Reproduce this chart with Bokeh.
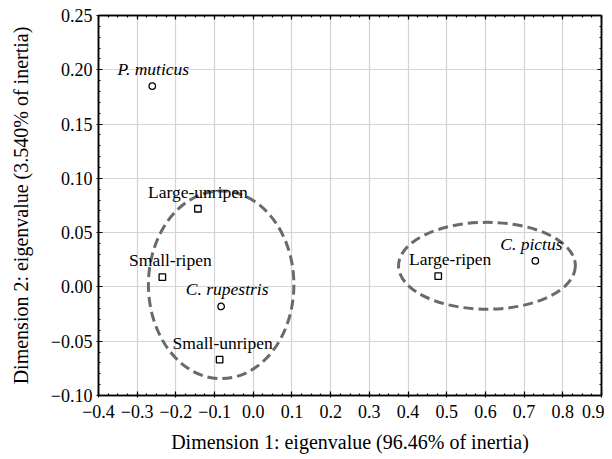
import numpy as np
from bokeh.plotting import figure
from bokeh.models import Range1d, LinearAxis, FixedTicker, ColumnDataSource, Grid
from bokeh.core.properties import value
from bokeh.embed import file_html
from bokeh.resources import INLINE

# ---- data ----
fruit_labels = ["Large-unripen", "Small-ripen", "Small-unripen", "Large-ripen"]
fruit_x = [-0.143, -0.235, -0.087, 0.478]
fruit_y = [0.072, 0.009, -0.067, 0.010]

species_labels = ["P. muticus", "C. rupestris", "C. pictus"]
species_x = [-0.261, -0.083, 0.729]
species_y = [0.185, -0.018, 0.024]

ellipse_cx = [-0.083, 0.604]
ellipse_cy = [0.002, 0.0195]
ellipse_w = [0.376, 0.457]
ellipse_h = [0.173, 0.080]

x_ticks = [-0.4, -0.3, -0.2, -0.1, 0.0, 0.1, 0.2, 0.3, 0.4, 0.5, 0.6, 0.7, 0.8, 0.9]
x_tick_labels = ["−0.4", "−0.3", "−0.2", "−0.1", "0.0", "0.1", "0.2", "0.3",
                 "0.4", "0.5", "0.6", "0.7", "0.8", "0.9"]
y_ticks = [-0.10, -0.05, 0.00, 0.05, 0.10, 0.15, 0.20, 0.25]
y_tick_labels = ["−0.10", "−0.05", "0.00", "0.05", "0.10", "0.15", "0.20", "0.25"]

# label placement (styles, screen px)
fruit_dx = [0, 8, 3, 12]
species_dx = [1, 6, -4]

FONT = "Liberation Serif"

p = figure(width=604, height=459, output_backend="svg", toolbar_location=None,
           x_range=Range1d(-0.4, 0.9), y_range=Range1d(-0.10, 0.25),
           x_axis_type=None, y_axis_type=None,
           min_border_left=98, min_border_right=3, min_border_top=15, min_border_bottom=64)
p.background_fill_color = "white"
p.border_fill_color = "white"
p.outline_line_color = "black"
p.outline_line_width = 1.5

x_minor = list(np.round(np.arange(-0.4, 0.9001, 0.025), 4))
y_minor = list(np.round(np.arange(-0.10, 0.2501, 0.01), 4))
xt = FixedTicker(ticks=x_ticks, minor_ticks=x_minor)
yt = FixedTicker(ticks=y_ticks, minor_ticks=y_minor)

common = dict(axis_line_width=1.5, axis_line_color="black",
              major_tick_in=4, major_tick_out=2, minor_tick_in=2, minor_tick_out=0,
              major_tick_line_width=1.2, minor_tick_line_width=1.2,
              major_label_text_font=FONT, major_label_text_font_size="18px",
              major_label_text_color="black",
              axis_label_text_font=FONT, axis_label_text_font_size="20px",
              axis_label_text_font_style="normal", axis_label_text_color="black")

xaxis = LinearAxis(ticker=xt, axis_label="Dimension 1: eigenvalue (96.46% of inertia)",
                   major_label_overrides=dict(zip(x_ticks, x_tick_labels)),
                   major_label_standoff=7, axis_label_standoff=10, **common)
yaxis = LinearAxis(ticker=yt, axis_label="Dimension 2: eigenvalue (3.540% of inertia)",
                   major_label_overrides=dict(zip(y_ticks, y_tick_labels)),
                   major_label_standoff=4, axis_label_standoff=16, **common)
p.add_layout(xaxis, "below")
p.add_layout(yaxis, "left")

for loc, tk in (("above", xt), ("right", yt)):
    extra = LinearAxis(ticker=tk, axis_line_width=1.5, axis_line_color="black",
                       major_tick_in=4, major_tick_out=0,
                       minor_tick_in=2, minor_tick_out=0, major_tick_line_width=1.2,
                       minor_tick_line_width=1.2, major_label_text_color=None,
                       major_label_text_font_size="1px", major_label_standoff=0)
    p.add_layout(extra, loc)

p.add_layout(Grid(dimension=0, ticker=xt, grid_line_color="#d4d4d4", grid_line_width=1.2))
p.add_layout(Grid(dimension=1, ticker=yt, grid_line_color="#d4d4d4", grid_line_width=1.2))

# ellipses
esrc = ColumnDataSource(dict(x=ellipse_cx, y=ellipse_cy, w=ellipse_w, h=ellipse_h))
p.ellipse(x="x", y="y", width="w", height="h", source=esrc, fill_color=None,
          line_color="#6a6a6a", line_width=3, line_dash="10 5")

# markers
fsrc = ColumnDataSource(dict(x=fruit_x, y=fruit_y, t=fruit_labels, dx=fruit_dx))
ssrc = ColumnDataSource(dict(x=species_x, y=species_y, t=species_labels, dx=species_dx))
p.scatter(x="x", y="y", source=fsrc, marker="square", size=6.5,
          fill_color="white", line_color="black", line_width=1.3)
p.scatter(x="x", y="y", source=ssrc, marker="circle", size=6.5,
          fill_color="white", line_color="black", line_width=1.3)

p.text(x="x", y="y", text="t", source=fsrc, x_offset="dx", y_offset=-17,
       text_font=value(FONT), text_font_size="17.5px", text_align="center",
       text_baseline="middle", text_color="black")
p.text(x="x", y="y", text="t", source=ssrc, x_offset="dx", y_offset=-17,
       text_font=value(FONT), text_font_size="17.5px", text_font_style="italic",
       text_align="center", text_baseline="middle", text_color="black")

open("out.html", "w").write(file_html(p, INLINE))
